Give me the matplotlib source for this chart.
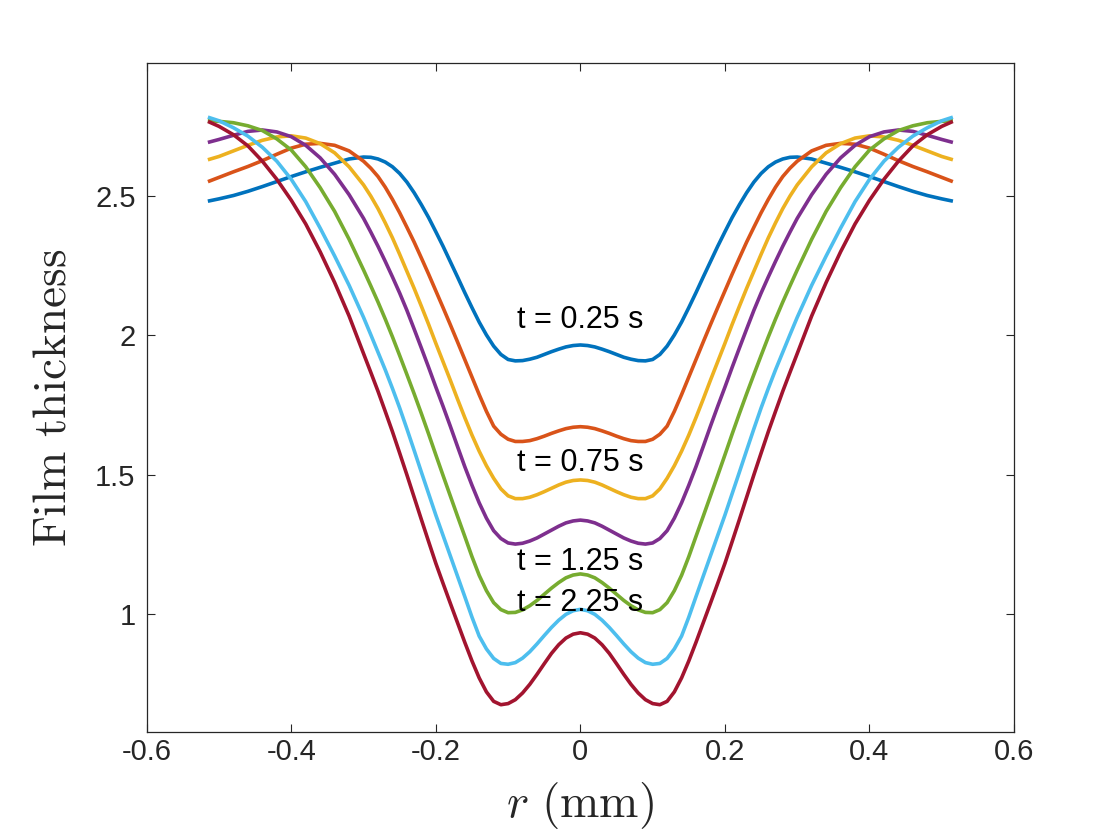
import numpy as np
import matplotlib
matplotlib.use("Agg")
import matplotlib.pyplot as plt

# film thickness profiles (right half, curves are symmetric in r)
r_half = [0.00, 0.01, 0.02, 0.03, 0.04, 0.05, 0.06, 0.07, 0.08, 0.09, 0.10,
          0.11, 0.12, 0.13, 0.14, 0.15, 0.16, 0.17, 0.18, 0.19, 0.20,
          0.21, 0.22, 0.23, 0.24, 0.25, 0.26, 0.27, 0.28, 0.29, 0.30,
          0.32, 0.34, 0.36, 0.38, 0.40, 0.42, 0.44, 0.46, 0.48, 0.50, 0.513]

h_blue = [1.966, 1.964, 1.959, 1.951, 1.942, 1.932, 1.922, 1.915, 1.910, 1.909, 1.914,
          1.932, 1.962, 2.002, 2.048, 2.100, 2.154, 2.210, 2.265, 2.320, 2.372,
          2.423, 2.469, 2.512, 2.550, 2.581, 2.605, 2.622, 2.633, 2.639, 2.640,
          2.633, 2.618, 2.603, 2.587, 2.570, 2.552, 2.534, 2.517, 2.502, 2.490, 2.483]
h_orange = [1.673, 1.671, 1.666, 1.658, 1.649, 1.639, 1.630, 1.623, 1.620, 1.620, 1.628,
            1.646, 1.675, 1.728, 1.788, 1.851, 1.914, 1.977, 2.039, 2.100, 2.160,
            2.220, 2.278, 2.335, 2.388, 2.440, 2.488, 2.532, 2.570, 2.600, 2.625,
            2.662, 2.682, 2.689, 2.686, 2.672, 2.650, 2.627, 2.606, 2.587, 2.567, 2.554]
h_yellow = [1.482, 1.480, 1.474, 1.464, 1.452, 1.440, 1.429, 1.420, 1.415, 1.415, 1.425,
            1.450, 1.488, 1.533, 1.585, 1.643, 1.706, 1.772, 1.840, 1.906, 1.972,
            2.040, 2.105, 2.169, 2.230, 2.291, 2.350, 2.404, 2.455, 2.500, 2.540,
            2.605, 2.655, 2.688, 2.708, 2.716, 2.712, 2.700, 2.682, 2.662, 2.642, 2.632]
h_purple = [1.338, 1.335, 1.328, 1.316, 1.302, 1.288, 1.274, 1.263, 1.255, 1.252, 1.256,
            1.272, 1.300, 1.345, 1.400, 1.463, 1.530, 1.602, 1.675, 1.746, 1.815,
            1.886, 1.955, 2.023, 2.090, 2.152, 2.210, 2.266, 2.320, 2.371, 2.420,
            2.505, 2.578, 2.637, 2.682, 2.713, 2.730, 2.737, 2.732, 2.718, 2.703, 2.694]
h_green = [1.145, 1.141, 1.131, 1.114, 1.094, 1.072, 1.050, 1.031, 1.016, 1.007, 1.006,
           1.017, 1.042, 1.085, 1.140, 1.207, 1.280, 1.352, 1.425, 1.498, 1.572,
           1.647, 1.720, 1.791, 1.860, 1.928, 1.995, 2.059, 2.120, 2.178, 2.235,
           2.345, 2.445, 2.530, 2.605, 2.665, 2.705, 2.735, 2.752, 2.763, 2.768, 2.770]
h_cyan = [1.018, 1.013, 1.000, 0.979, 0.953, 0.924, 0.894, 0.866, 0.843, 0.827, 0.821,
          0.824, 0.842, 0.876, 0.922, 0.990, 1.064, 1.137, 1.210, 1.283, 1.356,
          1.433, 1.510, 1.588, 1.665, 1.740, 1.810, 1.877, 1.940, 2.003, 2.065,
          2.180, 2.285, 2.385, 2.480, 2.560, 2.625, 2.675, 2.715, 2.745, 2.770, 2.781]
h_red = [0.934, 0.929, 0.915, 0.891, 0.860, 0.823, 0.785, 0.749, 0.718, 0.694, 0.680,
         0.676, 0.688, 0.722, 0.772, 0.833, 0.900, 0.970, 1.040, 1.111, 1.183,
         1.261, 1.340, 1.420, 1.500, 1.578, 1.655, 1.728, 1.800, 1.868, 1.935,
         2.070, 2.190, 2.300, 2.400, 2.485, 2.560, 2.625, 2.680, 2.720, 2.750, 2.765]

profiles = [h_blue, h_orange, h_yellow, h_purple, h_green, h_cyan, h_red]
colors = ['#0072BD', '#D95319', '#EDB120', '#7E2F8E', '#77AC30', '#4DBEEE', '#A2142F']

label_texts = ['t = 0.25 s', 't = 0.75 s', 't = 1.25 s', 't = 2.25 s']
label_h = [2.026, 1.515, 1.159, 1.013]

xticks = [-0.6, -0.4, -0.2, 0, 0.2, 0.4, 0.6]
yticks = [1, 1.5, 2, 2.5]

plt.rcParams['font.family'] = ['Liberation Sans', 'DejaVu Sans']
plt.rcParams['mathtext.fontset'] = 'cm'
plt.rcParams['axes.unicode_minus'] = False

axcol = '#262626'

fig = plt.figure(figsize=(11.2, 8.4), dpi=100)
ax = fig.add_axes([0.131, 0.1282, 0.7744, 0.7964])

# mirror the half profiles to get the full curve
r = np.array(r_half)
r_full = np.concatenate([-r[::-1], r[1:]])
for h, c in zip(profiles, colors):
    h = np.array(h)
    h_full = np.concatenate([h[::-1], h[1:]])
    ax.plot(r_full, h_full, color=c, lw=2.6, solid_joinstyle='round')

for txt, y in zip(label_texts, label_h):
    ax.text(0, y, txt, ha='center', va='baseline', fontsize=22, color='black')

ax.set_xlim(-0.6, 0.6)
ax.set_ylim(0.577, 2.976)
ax.set_xticks(xticks)
ax.set_xticklabels(['-0.6', '-0.4', '-0.2', '0', '0.2', '0.4', '0.6'])
ax.set_yticks(yticks)
ax.set_yticklabels(['1', '1.5', '2', '2.5'])

ax.tick_params(direction='in', length=6, width=0.8, top=True, right=True,
               colors=axcol, labelsize=21)
ax.tick_params(axis='x', pad=4)
ax.tick_params(axis='y', pad=8)
for s in ax.spines.values():
    s.set_color(axcol)
    s.set_linewidth(0.9)

ax.set_xlabel(r'$r\ (\mathrm{mm})$', fontsize=34, color=axcol)
ax.set_ylabel(r'$\mathrm{Film\ thickness}$', fontsize=34, color=axcol)
ax.xaxis.set_label_coords(0.5, -0.072)
ax.yaxis.set_label_coords(-0.082, 0.5)

fig.savefig('out.png', dpi=100)
